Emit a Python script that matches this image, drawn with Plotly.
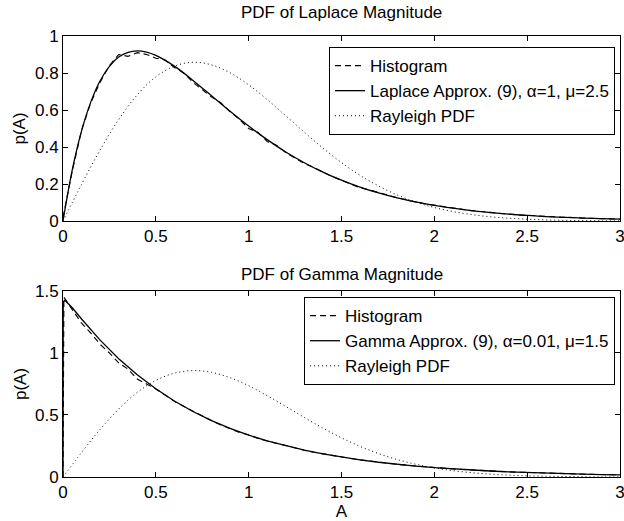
import plotly.graph_objects as go
from plotly.subplots import make_subplots

# ---------------- data ----------------
x_grid = [0, 0.05, 0.1, 0.15, 0.2, 0.25, 0.3, 0.35, 0.4, 0.45, 0.5, 0.6, 0.7, 0.8, 0.9, 1.0,
          1.1, 1.2, 1.3, 1.4, 1.5, 1.6, 1.7, 1.8, 1.9, 2.0, 2.1, 2.2, 2.3, 2.4, 2.5,
          2.6, 2.7, 2.8, 2.9, 3.0]
laplace_approx = [0, 0.276, 0.487, 0.644, 0.758, 0.836, 0.886, 0.912, 0.920, 0.913, 0.895,
                  0.837, 0.760, 0.677, 0.593, 0.513, 0.440, 0.373, 0.315, 0.264, 0.221,
                  0.183, 0.152, 0.125, 0.103, 0.084, 0.069, 0.056, 0.046, 0.037, 0.030,
                  0.024, 0.020, 0.016, 0.013, 0.010]

x_ray = [0, 0.1, 0.2, 0.3, 0.4, 0.5, 0.6, 0.7, 0.8, 0.9, 1.0, 1.1, 1.2, 1.3, 1.4, 1.5,
         1.6, 1.7, 1.8, 1.9, 2.0, 2.1, 2.2, 2.3, 2.4, 2.5, 2.6, 2.7, 2.8, 2.9, 3.0]
rayleigh = [0, 0.198, 0.384, 0.548, 0.682, 0.779, 0.837, 0.858, 0.844, 0.801, 0.736, 0.656,
            0.569, 0.480, 0.394, 0.316, 0.247, 0.189, 0.141, 0.103, 0.073, 0.051, 0.035,
            0.023, 0.015, 0.0097, 0.006, 0.0037, 0.0022, 0.0013, 0.0007]

x_hist = [0, 0.05, 0.1, 0.15, 0.2, 0.25, 0.3, 0.35, 0.4, 0.45, 0.5, 0.55, 0.6, 0.65, 0.7,
          0.75, 0.8, 0.85, 0.9, 0.95, 1.0, 1.05, 1.1, 1.15, 1.2, 1.25, 1.3, 1.35, 1.4, 1.45,
          1.5, 1.55, 1.6, 1.65, 1.7, 1.75, 1.8, 1.85, 1.9, 1.95, 2.0, 2.05, 2.1, 2.15, 2.2,
          2.25, 2.3, 2.35, 2.4, 2.45, 2.5, 2.55, 2.6, 2.65, 2.7, 2.75, 2.8, 2.85, 2.9, 2.95, 3.0]
laplace_hist = [0.02, 0.27, 0.49, 0.64, 0.75, 0.84, 0.90, 0.89, 0.91, 0.90, 0.88, 0.87, 0.83,
                0.80, 0.75, 0.71, 0.67, 0.64, 0.59, 0.55, 0.50, 0.48, 0.43, 0.41, 0.37, 0.34,
                0.31, 0.29, 0.265, 0.24, 0.22, 0.20, 0.18, 0.168, 0.152, 0.14, 0.126, 0.113,
                0.103, 0.093, 0.085, 0.076, 0.070, 0.062, 0.056, 0.051, 0.046, 0.041, 0.037,
                0.033, 0.030, 0.027, 0.024, 0.022, 0.020, 0.018, 0.016, 0.014, 0.013, 0.011,
                0.010]

x_gamma = [0, 0.001, 0.01, 0.05, 0.1, 0.2, 0.3, 0.4, 0.5, 0.6, 0.7, 0.8, 0.9, 1.0, 1.1, 1.2,
           1.3, 1.4, 1.5, 1.6, 1.7, 1.8, 1.9, 2.0, 2.1, 2.2, 2.3, 2.4, 2.5, 2.6, 2.7, 2.8,
           2.9, 3.0]
gamma_approx = [0, 1.411, 1.425, 1.365, 1.274, 1.104, 0.954, 0.824, 0.711, 0.613, 0.528,
                0.455, 0.392, 0.338, 0.291, 0.251, 0.216, 0.186, 0.160, 0.138, 0.119, 0.102,
                0.0882, 0.076, 0.0654, 0.0563, 0.0486, 0.0418, 0.0359, 0.0309, 0.0266,
                0.0229, 0.0197, 0.0170]

x_ghist = [0, 0.005, 0.05, 0.1, 0.15, 0.2, 0.25, 0.3, 0.35, 0.4, 0.45, 0.5, 0.55, 0.6, 0.65,
           0.7, 0.75, 0.8, 0.85, 0.9, 0.95, 1.0, 1.05, 1.1, 1.15, 1.2, 1.25, 1.3, 1.35, 1.4,
           1.45, 1.5, 1.55, 1.6, 1.65, 1.7, 1.75, 1.8, 1.85, 1.9, 1.95, 2.0, 2.05, 2.1, 2.15,
           2.2, 2.25, 2.3, 2.35, 2.4, 2.45, 2.5, 2.55, 2.6, 2.65, 2.7, 2.75, 2.8, 2.85, 2.9,
           2.95, 3.0]
gamma_hist = [0.0, 1.45, 1.35, 1.24, 1.16, 1.07, 1.00, 0.92, 0.87, 0.79, 0.75, 0.71, 0.66,
              0.61, 0.57, 0.53, 0.49, 0.455, 0.42, 0.39, 0.36, 0.34, 0.31, 0.29, 0.27, 0.25,
              0.232, 0.216, 0.20, 0.186, 0.173, 0.160, 0.149, 0.138, 0.128, 0.119, 0.110,
              0.102, 0.095, 0.088, 0.082, 0.076, 0.071, 0.065, 0.061, 0.056, 0.052, 0.049,
              0.045, 0.042, 0.039, 0.036, 0.033, 0.031, 0.029, 0.027, 0.025, 0.023, 0.021,
              0.020, 0.018, 0.017]

x_ticks = [0, 0.5, 1, 1.5, 2, 2.5, 3]
x_ticklabels = ["0", "0.5", "1", "1.5", "2", "2.5", "3"]
y1_ticks = [0, 0.2, 0.4, 0.6, 0.8, 1]
y1_ticklabels = ["0", "0.2", "0.4", "0.6", "0.8", "1"]
y2_ticks = [0, 0.5, 1, 1.5]
y2_ticklabels = ["0", "0.5", "1", "1.5"]

FONT = "Liberation Sans, Arial, Helvetica, sans-serif"
FS = 17

fig = make_subplots(rows=2, cols=1)

# top panel
fig.add_trace(go.Scatter(x=x_hist, y=laplace_hist, mode="lines", name="Histogram",
                         line=dict(color="black", width=1.1, dash="6px,4px"),
                         legend="legend"), row=1, col=1)
fig.add_trace(go.Scatter(x=x_grid, y=laplace_approx, mode="lines",
                         name="Laplace Approx. (9), α=1, μ=2.5",
                         line=dict(color="black", width=1.3, shape="spline"),
                         legend="legend"), row=1, col=1)
fig.add_trace(go.Scatter(x=x_ray, y=rayleigh, mode="lines", name="Rayleigh PDF",
                         line=dict(color="black", width=1, dash="1px,3px", shape="spline"),
                         legend="legend"), row=1, col=1)

# bottom panel
fig.add_trace(go.Scatter(x=x_ghist, y=gamma_hist, mode="lines", name="Histogram",
                         line=dict(color="black", width=1.1, dash="6px,4px"),
                         legend="legend2"), row=2, col=1)
fig.add_trace(go.Scatter(x=x_gamma, y=gamma_approx, mode="lines",
                         name="Gamma Approx. (9), α=0.01, μ=1.5",
                         line=dict(color="black", width=1.3),
                         legend="legend2"), row=2, col=1)
fig.add_trace(go.Scatter(x=x_ray, y=rayleigh, mode="lines", name="Rayleigh PDF",
                         line=dict(color="black", width=1, dash="1px,3px", shape="spline"),
                         legend="legend2"), row=2, col=1)

axis_common = dict(showline=True, linecolor="black", linewidth=1, mirror="ticks",
                   ticks="inside", ticklen=5, tickcolor="black", showgrid=False,
                   zeroline=False, ticklabeloverflow="allow", automargin=False,
                   tickfont=dict(family=FONT, size=FS, color="black"))

fig.update_xaxes(range=[0, 3.0005], tickvals=x_ticks, ticktext=x_ticklabels, **axis_common)
fig.update_yaxes(**axis_common)
fig.update_yaxes(range=[0, 1], tickvals=y1_ticks, ticktext=y1_ticklabels, row=1, col=1,
                 domain=[0.5805, 1.0],
                 title=dict(text="p(A)", font=dict(family=FONT, size=FS, color="black"),
                            standoff=4))
fig.update_yaxes(range=[0, 1.5], tickvals=y2_ticks, ticktext=y2_ticklabels, row=2, col=1,
                 domain=[0.0, 0.4218],
                 title=dict(text="p(A)", font=dict(family=FONT, size=FS, color="black"),
                            standoff=4))
fig.update_xaxes(row=2, col=1,
                 title=dict(text="A", font=dict(family=FONT, size=FS, color="black"),
                            standoff=0))

legend_style = dict(bgcolor="white", bordercolor="black", borderwidth=1,
                    font=dict(family=FONT, size=17, color="black"),
                    xanchor="right", yanchor="top", tracegroupgap=0, itemwidth=30)

fig.update_layout(
    width=624, height=521,
    margin=dict(l=63, r=4, t=36, b=44, autoexpand=False),
    paper_bgcolor="white", plot_bgcolor="white",
    showlegend=True,
    legend=dict(x=0.991, y=0.975, **legend_style),
    legend2=dict(x=0.991, y=0.408, **legend_style),
    annotations=[
        dict(text="PDF of Laplace Magnitude", xref="paper", yref="paper", x=0.5, y=1.0,
             yshift=12, xanchor="center", yanchor="bottom", showarrow=False,
             font=dict(family=FONT, size=FS, color="black")),
        dict(text="PDF of Gamma Magnitude", xref="paper", yref="paper", x=0.5, y=0.4218,
             yshift=5, xanchor="center", yanchor="bottom", showarrow=False,
             font=dict(family=FONT, size=FS, color="black")),
    ],
)

fig.write_html("out.html")
